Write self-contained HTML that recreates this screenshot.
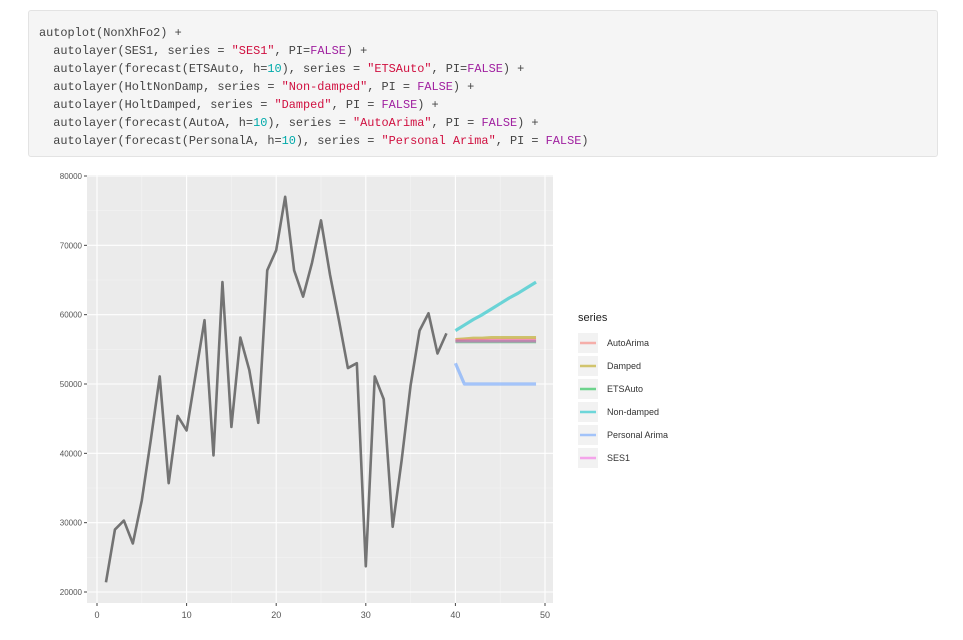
<!DOCTYPE html>
<html><head><meta charset="utf-8"><style>
body{margin:0;width:963px;height:640px;background:#fff;overflow:hidden;font-family:"Liberation Sans",sans-serif}
.code{position:absolute;left:28px;top:10px;width:910px;height:147px;background:#f5f5f5;border:1px solid #e3e3e3;border-radius:3px;box-sizing:border-box;padding:13px 10px;font-family:"Liberation Mono",monospace;font-size:11.9px;line-height:18px;color:#444;white-space:pre}
.s{color:#d01040}.k{color:#a020a0}.n{color:#0aa}
</style></head><body>
<div class="code">autoplot(NonXhFo2) +
  autolayer(SES1, series = <span class="s">"SES1"</span>, PI=<span class="k">FALSE</span>) +
  autolayer(forecast(ETSAuto, h=<span class="n">10</span>), series = <span class="s">"ETSAuto"</span>, PI=<span class="k">FALSE</span>) +
  autolayer(HoltNonDamp, series = <span class="s">"Non-damped"</span>, PI = <span class="k">FALSE</span>) +
  autolayer(HoltDamped, series = <span class="s">"Damped"</span>, PI = <span class="k">FALSE</span>) +
  autolayer(forecast(AutoA, h=<span class="n">10</span>), series = <span class="s">"AutoArima"</span>, PI = <span class="k">FALSE</span>) +
  autolayer(forecast(PersonalA, h=<span class="n">10</span>), series = <span class="s">"Personal Arima"</span>, PI = <span class="k">FALSE</span>)</div>
<svg id="chart" width="963" height="640" style="position:absolute;left:0;top:0"></svg>
<script>
const seriesX=[1,2,3,4,5,6,7,8,9,10,11,12,13,14,15,16,17,18,19,20,21,22,23,24,25,26,27,28,29,30,31,32,33,34,35,36,37,38,39];
const seriesY=[21400,29000,30300,27000,33200,41900,51100,35700,45400,43300,51300,59200,39700,64700,43800,56700,52000,44400,66400,69300,77000,66400,62600,67500,73600,65800,59200,52300,53000,23700,51100,47800,29400,39000,49800,57700,60200,54400,57300];
const fcX=[40,41,42,43,44,45,46,47,48,49];
const autoArima=[56300,56300,56300,56300,56300,56300,56300,56300,56300,56300];
const damped=[56400,56500,56600,56600,56700,56700,56700,56700,56700,56700];
const etsAuto=[56100,56100,56100,56100,56100,56100,56100,56100,56100,56100];
const nonDamped=[57700,58500,59300,60000,60800,61600,62400,63100,63900,64700];
const personalArima=[53000,50000,50000,50000,50000,50000,50000,50000,50000,50000];
const ses1=[56200,56200,56200,56200,56200,56200,56200,56200,56200,56200];
const xTicks=[0,10,20,30,40,50];
const yTicks=[20000,30000,40000,50000,60000,70000,80000];
const legendNames=["AutoArima","Damped","ETSAuto","Non-damped","Personal Arima","SES1"];
const legendColors=["#F8766D","#B79F00","#00BA38","#00BFC4","#619CFF","#F564E3"];

const NS="http://www.w3.org/2000/svg";
const svg=document.getElementById('chart');
const px0=87,px1=553,py0=175,py1=603;
const sx=v=>97+(v-0)*(545-97)/50;
const sy=v=>592-(v-20000)*(592-176)/60000;
function mk(t,a,p){const e=document.createElementNS(NS,t);for(const k in a)e.setAttribute(k,a[k]);(p||svg).appendChild(e);return e;}
let bg=mk('rect',{x:px0,y:py0,width:px1-px0,height:py1-py0,fill:'#ebebeb'});


for(let i=0;i<xTicks.length-1;i++){const m=(xTicks[i]+xTicks[i+1])/2;mk('line',{x1:sx(m),x2:sx(m),y1:py0,y2:py1,stroke:'#f4f4f4','stroke-width':0.6});}
for(let i=0;i<yTicks.length-1;i++){const m=(yTicks[i]+yTicks[i+1])/2;mk('line',{x1:px0,x2:px1,y1:sy(m),y2:sy(m),stroke:'#f4f4f4','stroke-width':0.6});}
xTicks.forEach(t=>{mk('line',{x1:sx(t),x2:sx(t),y1:py0,y2:py1,stroke:'#fff','stroke-width':1.1});mk('line',{x1:sx(t),x2:sx(t),y1:py1,y2:py1+3,stroke:'#444'});
 const tx=mk('text',{x:sx(t),y:py1+15,'text-anchor':'middle','font-size':9,fill:'#555'});tx.textContent=t;
 
 });
yTicks.forEach(t=>{mk('line',{x1:px0,x2:px1,y1:sy(t),y2:sy(t),stroke:'#fff','stroke-width':1.1});mk('line',{x1:px0-3,x2:px0,y1:sy(t),y2:sy(t),stroke:'#444'});
 const tx=mk('text',{x:px0-5,y:sy(t)+3,'text-anchor':'end','font-size':8,fill:'#555'});tx.textContent=t;
 
 });
function line(xs,ys,col,w,op,name){const l=mk('polyline',{points:xs.map((x,i)=>sx(x)+','+sy(ys[i])).join(' '),fill:'none',stroke:col,'stroke-width':w,'stroke-linejoin':'round','stroke-opacity':op});
 
 }
line(seriesX,seriesY,'#555',2.6,0.8,'observed-series');
const fcs=[autoArima,damped,etsAuto,nonDamped,personalArima,ses1];
const order=[1,0,2,5,3,4];
order.forEach(i=>line(fcX,fcs[i],legendColors[i],3.2,0.55,'forecast-'+legendNames[i].toLowerCase().replace(' ','-')));
const lt=mk('text',{x:578,y:321,'font-size':11,fill:'#222'});lt.textContent='series';


legendNames.forEach((n,i)=>{const y=343+i*23;const g=mk('g',{});
 
 
 mk('rect',{x:578,y:y-10,width:20,height:20,fill:'#f2f2f2'},g);
 mk('line',{x1:580,x2:596,y1:y,y2:y,stroke:legendColors[i],'stroke-width':2.5,'stroke-opacity':0.55},g);
 const t=mk('text',{x:607,y:y+3,'font-size':9,fill:'#333'},g);t.textContent=n;});
</script>
</body></html>
